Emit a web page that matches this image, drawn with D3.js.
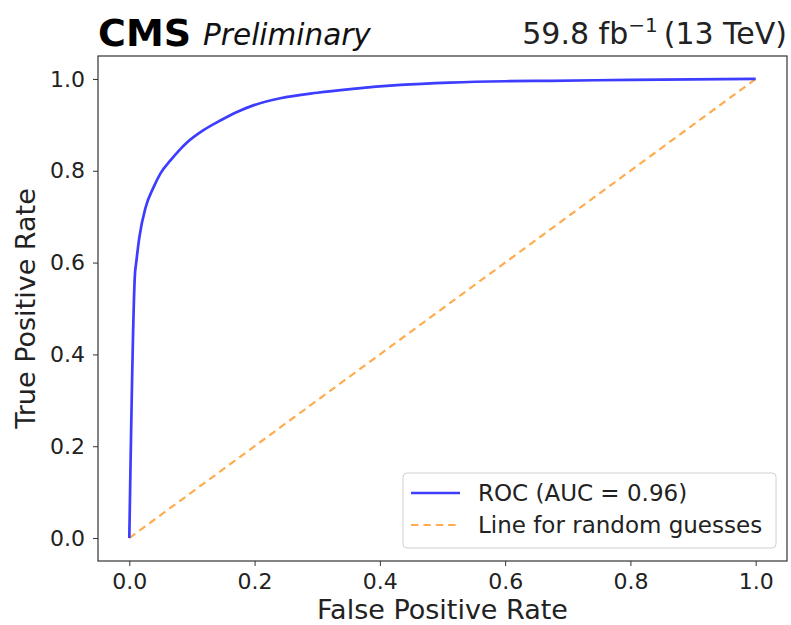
<!DOCTYPE html>
<html>
<head>
<meta charset="utf-8">
<script src="https://cdn.jsdelivr.net/npm/d3@7"></script>
<style>
  body { margin: 0; background: #fff; }
  svg { font-family: "DejaVu Sans", sans-serif; }
</style>
</head>
<body>
<svg id="roc" width="791" height="625"></svg>
<script>
// ROC curve points
const fpr = [0, 0.009, 0.011, 0.016, 0.026, 0.039, 0.050, 0.066, 0.080, 0.0925, 0.119, 0.146, 0.172, 0.199, 0.241, 0.300, 0.353, 0.433, 0.512, 0.600, 0.672, 0.800, 0.900, 1.0];
const tpr = [0, 0.575, 0.600, 0.655, 0.720, 0.765, 0.795, 0.823, 0.845, 0.862, 0.889, 0.910, 0.928, 0.943, 0.958, 0.970, 0.978, 0.987, 0.992, 0.995, 0.996, 0.998, 0.999, 1.0];
const randomX = [0, 1];
const randomY = [0, 1];
const xTicks = [0, 0.2, 0.4, 0.6, 0.8, 1.0];
const yTicks = [0, 0.2, 0.4, 0.6, 0.8, 1.0];
const legendLabels = ["ROC (AUC = 0.96)", "Line for random guesses"];

const svg = d3.select("#roc");
const margin = { top: 56, right: 4, bottom: 64, left: 98 };
const width = +svg.attr("width");
const height = +svg.attr("height");
const innerWidth = width - margin.left - margin.right;
const innerHeight = height - margin.top - margin.bottom;

const rocColor = "#3d3dff";
const randColor = "#ffac4f";
const dash = "7.4,5";

const xScale = d3.scaleLinear().domain([-0.05, 1.05]).range([0, innerWidth]);
const yScale = d3.scaleLinear().domain([-0.05, 1.05]).range([innerHeight, 0]);

const g = svg.append("g").attr("transform", `translate(${margin.left},${margin.top})`);

// axes
const xAxis = g.append("g")
    .attr("transform", `translate(0,${innerHeight})`)
    .call(d3.axisBottom(xScale).tickValues(xTicks).tickFormat(d3.format(".1f")).tickSize(5).tickPadding(7).tickSizeOuter(0));
const yAxis = g.append("g")
    .call(d3.axisLeft(yScale).tickValues(yTicks).tickFormat(d3.format(".1f")).tickSize(5).tickPadding(8).tickSizeOuter(0));
[xAxis, yAxis].forEach(a => {
    a.selectAll("text").attr("font-size", 22).attr("fill", "#222").attr("font-family", "DejaVu Sans");
    a.selectAll("line").attr("stroke", "#333");
    a.select(".domain").remove();
});

// frame
g.append("rect")
    .attr("width", innerWidth).attr("height", innerHeight)
    .attr("fill", "none").attr("stroke", "#333").attr("stroke-width", 1.2);

// random guess line
const randLine = d3.line().x(d => xScale(d[0])).y(d => yScale(d[1]));
g.append("path")
    .datum(d3.zip(randomX, randomY))
    .attr("fill", "none")
    .attr("stroke", randColor)
    .attr("stroke-width", 2.2)
    .attr("stroke-dasharray", dash)
    .attr("d", randLine);

// ROC line
const rocLine = d3.line()
    .x(d => xScale(d[0]))
    .y(d => yScale(d[1]))
    .curve(d3.curveMonotoneX);
g.append("path")
    .datum(d3.zip(fpr, tpr))
    .attr("fill", "none")
    .attr("stroke", rocColor)
    .attr("stroke-width", 2.7)
    .attr("stroke-linejoin", "round")
    .attr("d", rocLine);

// axis titles
svg.append("text")
    .attr("x", margin.left + innerWidth / 2).attr("y", 619)
    .attr("text-anchor", "middle").attr("font-size", 27).attr("fill", "#222")
    .text("False Positive Rate");
svg.append("text")
    .attr("transform", `translate(35,${margin.top + innerHeight / 2}) rotate(-90)`)
    .attr("text-anchor", "middle").attr("font-size", 27).attr("fill", "#222")
    .text("True Positive Rate");

// header
const head = svg.append("text").attr("x", margin.left).attr("y", 46);
head.append("tspan").attr("font-weight", "bold").attr("font-size", 38).attr("fill", "#000").text("CMS");
head.append("tspan").attr("dx", 12).attr("dy", -1).attr("font-style", "italic").attr("font-size", 29.5).attr("fill", "#111").text("Preliminary");

const lumi = svg.append("text").attr("x", width - 4).attr("y", 44)
    .attr("text-anchor", "end").attr("font-size", 30).attr("fill", "#222");
lumi.append("tspan").text("59.8 fb");
lumi.append("tspan").attr("dy", -12).attr("font-size", 20).text("\u22121");
lumi.append("tspan").attr("dy", 12).attr("dx", 6).text("(13 TeV)");

// legend
const legend = g.append("g").attr("transform", `translate(${403 - margin.left},${473 - margin.top})`);
legend.append("rect")
    .attr("width", 373).attr("height", 75).attr("rx", 4)
    .attr("fill", "#fff").attr("fill-opacity", 0.8)
    .attr("stroke", "#d0d0d0").attr("stroke-width", 1);
const items = [
    { label: legendLabels[0], color: rocColor, dash: null },
    { label: legendLabels[1], color: randColor, dash: dash }
];
items.forEach((it, i) => {
    const y = 20 + i * 32;
    legend.append("line")
        .attr("x1", 8).attr("x2", 57).attr("y1", y).attr("y2", y)
        .attr("stroke", it.color).attr("stroke-width", it.dash ? 2.2 : 2.7)
        .attr("stroke-dasharray", it.dash);
    legend.append("text")
        .attr("x", 75).attr("y", y + 8)
        .attr("font-size", 23).attr("fill", "#222")
        .text(it.label);
});
</script>
</body>
</html>
